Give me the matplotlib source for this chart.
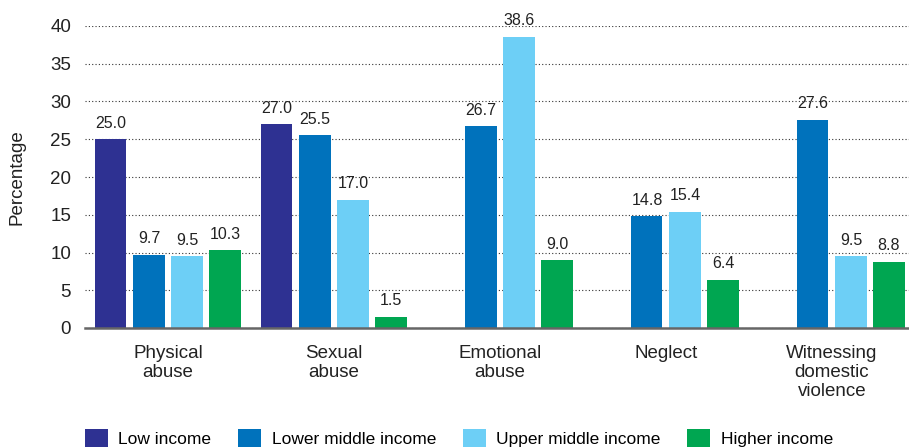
import numpy as np
import matplotlib
matplotlib.use("Agg")
import matplotlib.pyplot as plt

plt.rcParams['font.family'] = ['Liberation Sans', 'DejaVu Sans']

# data
categories = ["Physical\nabuse", "Sexual\nabuse", "Emotional\nabuse", "Neglect",
              "Witnessing\ndomestic\nviolence"]
series = ["Low income", "Lower middle income", "Upper middle income", "Higher income"]
low_income = [25.0, 27.0, np.nan, np.nan, np.nan]
lower_middle = [9.7, 25.5, 26.7, 14.8, 27.6]
upper_middle = [9.5, 17.0, 38.6, 15.4, 9.5]
higher_income = [10.3, 1.5, 9.0, 6.4, 8.8]
colors = ["#2E3192", "#0072BC", "#6DCFF6", "#00A651"]

values = [low_income, lower_middle, upper_middle, higher_income]

fig = plt.figure(figsize=(9.09, 4.47), dpi=100)
ax = fig.add_axes([85 / 909, (447 - 328) / 447, 1 - 85 / 909, (328 - 26) / 447])

x = np.arange(len(categories))
step = 0.229
width = 0.187
handles = []
for i, (vals, col) in enumerate(zip(values, colors)):
    pos = x + (i - 1.5) * step
    b = ax.bar(pos, vals, width=width, color=col, label=series[i], zorder=3)
    handles.append(b)
    for p, v in zip(pos, vals):
        if not np.isnan(v):
            ax.annotate("%.1f" % v, (p, v), xytext=(0, 6), textcoords="offset points",
                        ha="center", va="bottom", fontsize=11.5, color="#222222")

ax.set_ylim(0, 40)
ax.set_xlim(-0.5, 4.464)
ax.set_yticks(range(0, 45, 5))
ax.set_xticks(x)
ax.set_xticklabels(categories, fontsize=13.8, color="#222222", linespacing=1.15)
ax.tick_params(axis="both", length=0, labelsize=13.5, colors="#222222")
ax.tick_params(axis="x", pad=12)
ax.tick_params(axis="y", pad=10)

ax.yaxis.grid(True, linestyle=(0, (1, 2)), color="#333333", linewidth=0.8, zorder=0)
for s in ["left", "right", "top"]:
    ax.spines[s].set_visible(False)
ax.spines["bottom"].set_color("#666666")
ax.spines["bottom"].set_linewidth(1.8)
ax.spines["bottom"].set_zorder(4)

ax.set_ylabel("Percentage", fontsize=13.5, color="#222222")
ax.yaxis.set_label_coords(-60 / 824, 0.5)

fig.legend(handles=handles, labels=series, loc="center left",
           bbox_to_anchor=(85 / 909, 9 / 447), ncol=4, frameon=False,
           borderpad=0, borderaxespad=0, handlelength=1.32, handleheight=1.27,
           handletextpad=0.6, columnspacing=1.55, prop={'size': 12.5})

fig.savefig("out.png", dpi=100)
